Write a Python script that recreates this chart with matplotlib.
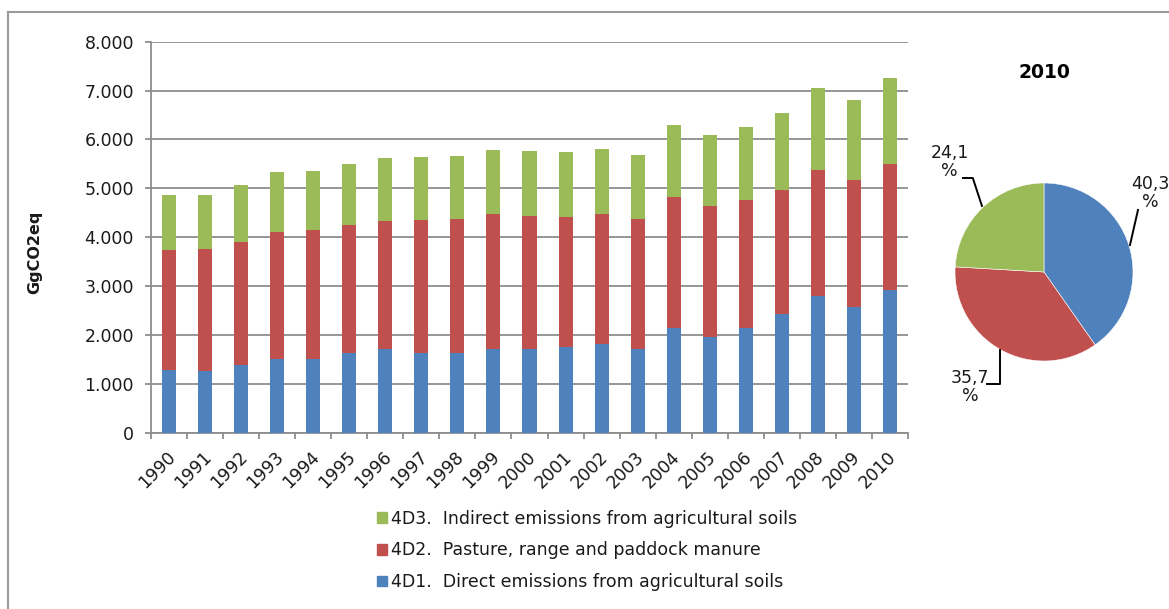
import matplotlib
matplotlib.use("Agg")
import matplotlib.pyplot as plt
from matplotlib.patches import Patch
from matplotlib.transforms import ScaledTranslation
import numpy as np

years = [str(y) for y in range(1990, 2011)]
direct = [1280, 1270, 1380, 1500, 1515, 1625, 1705, 1640, 1625, 1720, 1712,
          1745, 1815, 1705, 2140, 1965, 2140, 2430, 2800, 2565, 2920]
pasture = [2460, 2480, 2520, 2610, 2625, 2630, 2635, 2710, 2745, 2745, 2730,
           2670, 2655, 2670, 2690, 2670, 2630, 2530, 2575, 2605, 2585]
indirect = [1115, 1120, 1160, 1215, 1215, 1245, 1275, 1300, 1290, 1315, 1322,
            1330, 1335, 1315, 1460, 1450, 1485, 1575, 1685, 1635, 1746]
series_labels = ["4D1.  Direct emissions from agricultural soils",
                 "4D2.  Pasture, range and paddock manure",
                 "4D3.  Indirect emissions from agricultural soils"]
pie_title = "2010"
yticks = [0, 1000, 2000, 3000, 4000, 5000, 6000, 7000, 8000]
ytick_labels = ["0", "1.000", "2.000", "3.000", "4.000", "5.000", "6.000", "7.000", "8.000"]

BLUE, RED, GREEN = "#4F81BD", "#C0504D", "#9BBB59"
GRID = "#8E8E8E"
TXT = "#1a1a1a"
FS = 12.5

W, H = 1169, 609
fig = plt.figure(figsize=(W / 100, H / 100), dpi=100)
plt.rcParams['font.family'] = ['DejaVu Sans']

def fx(px):
    return px / W

def fy(py):
    return 1 - py / H

# outer frame
fig.add_artist(plt.Line2D([fx(8), fx(8)], [fy(12), 0], color="#9a9a9a", lw=1.5))
fig.add_artist(plt.Line2D([fx(8), 1], [fy(12), fy(12)], color="#9a9a9a", lw=1.5))

# bar chart
L, R, T, B = 151, 908, 41.7, 432.7
ax = fig.add_axes([fx(L), fy(B), fx(R) - fx(L), fy(T) - fy(B)])
x = np.arange(len(years))
d = np.array(direct)
p = np.array(pasture)
i = np.array(indirect)
bw = 0.39
ax.bar(x, d, bw, color=BLUE, zorder=3)
ax.bar(x, p, bw, bottom=d, color=RED, zorder=3)
ax.bar(x, i, bw, bottom=d + p, color=GREEN, zorder=3)
ax.set_xlim(-0.5, len(years) - 0.5)
ax.set_ylim(0, 8000)
ax.set_yticks(yticks)
ax.set_yticklabels(ytick_labels)
ax.yaxis.grid(True, color=GRID, lw=1.3, zorder=0)
for s in ["top", "right"]:
    ax.spines[s].set_visible(False)
for s in ["left", "bottom"]:
    ax.spines[s].set_color(GRID)
    ax.spines[s].set_linewidth(1.3)
ax.tick_params(axis="y", length=4, width=1.3, color=GRID, pad=8.3, labelsize=FS, labelcolor=TXT)
ax.set_xticks(x)
ax.set_xticklabels(years, rotation=45, ha="right", va="top", rotation_mode="anchor")
ax.set_xticks(np.arange(-0.5, len(years), 1.0), minor=True)
ax.tick_params(axis="x", which="major", length=0, pad=11, labelsize=FS, labelcolor=TXT)
ax.tick_params(axis="x", which="minor", length=4, width=1.3, color=GRID)
off = ScaledTranslation(-3 / 100, 0, fig.dpi_scale_trans)
for lab in ax.get_xticklabels():
    lab.set_transform(lab.get_transform() + off)
ax.set_ylabel("GgCO2eq", fontsize=11.5, fontweight="bold", color=TXT)
ax.yaxis.set_label_coords((42 - L) / (R - L), (B - 252) / (B - T))

# legend
handles = [Patch(color=GREEN), Patch(color=RED), Patch(color=BLUE)]
labs = [series_labels[2], series_labels[1], series_labels[0]]
fig.legend(handles, labs, loc="upper left", bbox_to_anchor=(fx(361), fy(494)),
           frameon=False, fontsize=FS, handlelength=0.58, handleheight=0.58,
           handletextpad=0.25, labelspacing=0.79, labelcolor=TXT)

# pie
pax = fig.add_axes([fx(1044 - 89), fy(272 + 89), fx(178), fy(0) - fy(178)])
last = [direct[-1], pasture[-1], indirect[-1]]
tot = sum(last)
pax.pie(last, colors=[BLUE, RED, GREEN], startangle=90, counterclock=False,
        radius=1, wedgeprops=dict(edgecolor="white", linewidth=0.4))
pax.set_xlim(-1, 1)
pax.set_ylim(-1, 1)
pax.set_aspect("auto")
pct = [f"{v / tot * 100:.1f}".replace(".", ",") + "\n%" for v in last]
lab_pos = [(1.19, 0.89), (-0.83, -1.29), (-1.06, 1.24)]
leaders = [
    [(1.056, 0.697), (0.966, 0.303)],
    [(-0.64, -1.258), (-0.494, -1.258), (-0.494, -0.876)],
    [(-0.91, 1.056), (-0.80, 1.056), (-0.697, 0.742)],
]
for t, (lx, ly), ld in zip(pct, lab_pos, leaders):
    pax.text(lx, ly, t, ha="center", va="center", fontsize=FS, color=TXT,
             linespacing=1.0, clip_on=False)
    xs, ys = zip(*ld)
    pax.plot(xs, ys, color="black", lw=1.4, clip_on=False)
fig.text(fx(1044), fy(73), pie_title, ha="center", va="center", fontsize=13.5,
         fontweight="bold", color="black")

fig.savefig("out.png", dpi=100)
